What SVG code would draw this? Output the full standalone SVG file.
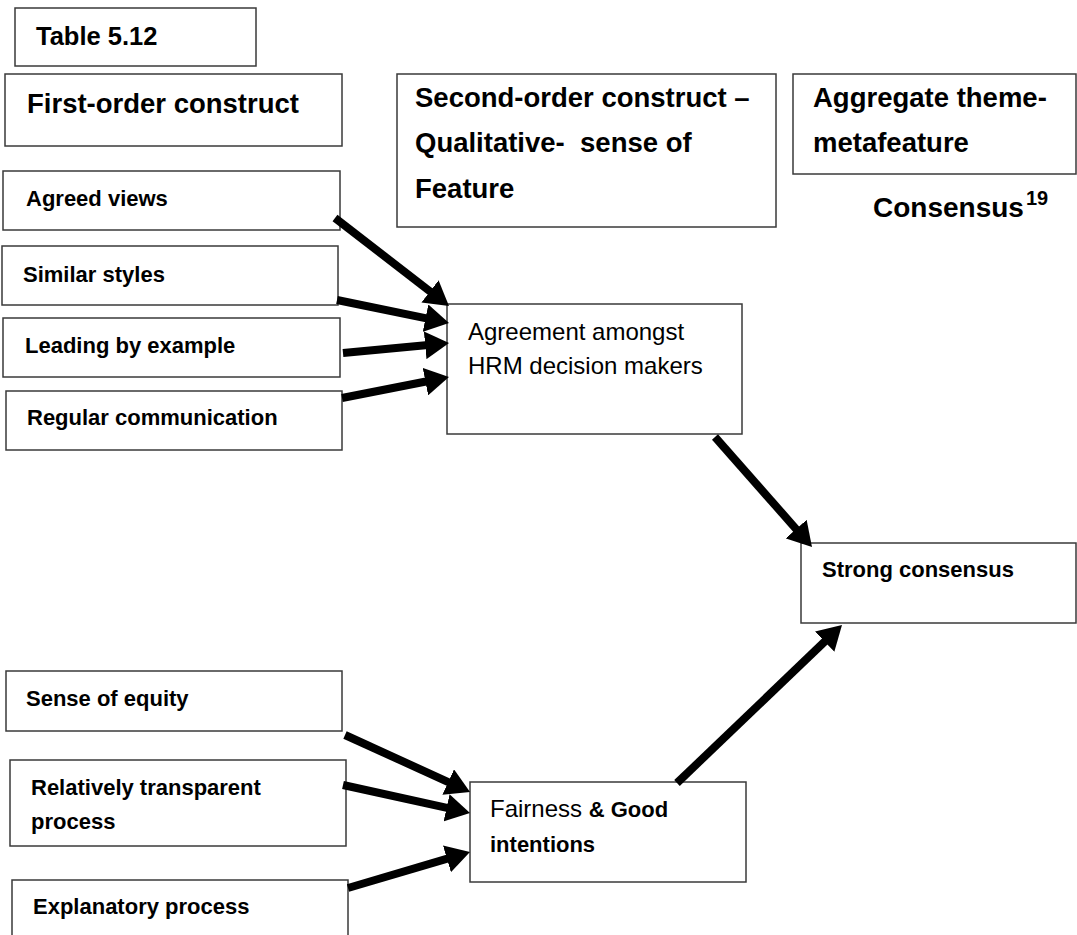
<svg xmlns="http://www.w3.org/2000/svg" width="1077" height="935" viewBox="0 0 1077 935">
  <style>
    .box { fill: #ffffff; stroke: #3a3a3a; stroke-width: 1.5; }
    .hdr { font-family: "Liberation Sans", Arial, sans-serif; font-weight: bold; font-size: 27.5px; fill: #000; }
    .lbl { font-family: "Liberation Sans", Arial, sans-serif; font-weight: bold; font-size: 22px; fill: #000; }
    .reg { font-family: "Liberation Sans", Arial, sans-serif; font-weight: normal; font-size: 24px; fill: #000; }
    .conn line { stroke: #000; stroke-width: 8; marker-end: url(#head); }
  </style>
  <defs>
    <marker id="head" markerUnits="userSpaceOnUse" markerWidth="26" markerHeight="28" viewBox="0 0 26 28" refX="11" refY="14" orient="auto">
      <path d="M0,0 L24,14 L0,28 z" fill="#000"/>
    </marker>
  </defs>
  <rect width="1077" height="935" fill="#ffffff"/>

  <!-- column headings -->
  <g id="table-title">
    <rect class="box" x="15" y="8" width="241" height="58"/>
    <text class="hdr" x="36" y="45" style="font-size:25.5px">Table 5.12</text>
  </g>
  <g id="first-order">
    <rect class="box" x="5" y="74" width="337" height="72"/>
    <text class="hdr" x="27" y="113">First-order construct</text>
  </g>
  <g id="second-order">
    <rect class="box" x="397" y="74" width="379" height="153"/>
    <text class="hdr" x="415" y="107">Second-order construct –</text>
    <text class="hdr" x="415" y="152" xml:space="preserve">Qualitative-  sense of</text>
    <text class="hdr" x="415" y="198">Feature</text>
  </g>
  <g id="aggregate">
    <rect class="box" x="793" y="74" width="283" height="100"/>
    <text class="hdr" x="813" y="107">Aggregate theme-</text>
    <text class="hdr" x="813" y="152">metafeature</text>
  </g>
  <g id="consensus-title">
    <text class="hdr" x="873" y="217" style="font-size:28px">Consensus<tspan dx="2" dy="-12" style="font-size:20px">19</tspan></text>
  </g>

  <!-- first-order constructs -->
  <g id="agreed-views">
    <rect class="box" x="3" y="171" width="337" height="59"/>
    <text class="lbl" x="26" y="206">Agreed views</text>
  </g>
  <g id="similar-styles">
    <rect class="box" x="2" y="246" width="336" height="59"/>
    <text class="lbl" x="23" y="282">Similar styles</text>
  </g>
  <g id="leading-by-example">
    <rect class="box" x="3" y="318" width="337" height="59"/>
    <text class="lbl" x="25" y="353">Leading by example</text>
  </g>
  <g id="regular-communication">
    <rect class="box" x="6" y="391" width="336" height="59"/>
    <text class="lbl" x="27" y="425">Regular communication</text>
  </g>
  <g id="sense-of-equity">
    <rect class="box" x="6" y="671" width="336" height="60"/>
    <text class="lbl" x="26" y="706">Sense of equity</text>
  </g>
  <g id="transparent-process">
    <rect class="box" x="10" y="760" width="336" height="86"/>
    <text class="lbl" x="31" y="795">Relatively transparent</text>
    <text class="lbl" x="31" y="829">process</text>
  </g>
  <g id="explanatory-process">
    <rect class="box" x="12" y="880" width="336" height="70"/>
    <text class="lbl" x="33" y="914">Explanatory process</text>
  </g>

  <!-- second-order constructs -->
  <g id="agreement">
    <rect class="box" x="447" y="304" width="295" height="130"/>
    <text class="reg" x="468" y="340">Agreement amongst</text>
    <text class="reg" x="468" y="374">HRM decision makers</text>
  </g>
  <g id="fairness">
    <rect class="box" x="470" y="782" width="276" height="100"/>
    <text class="reg" x="490" y="817">Fairness <tspan style="font-weight:bold;font-size:22px">&amp; Good</tspan></text>
    <text class="lbl" x="490" y="852">intentions</text>
  </g>

  <!-- aggregate theme -->
  <g id="strong-consensus">
    <rect class="box" x="801" y="543" width="275" height="80"/>
    <text class="lbl" x="822" y="577">Strong consensus</text>
  </g>

  <!-- connectors -->
  <g id="connectors" class="conn">
    <line x1="335" y1="218" x2="438.7" y2="298.1"/>
    <line x1="337" y1="300" x2="436.3" y2="320.4"/>
    <line x1="343" y1="353" x2="436.1" y2="344.2"/>
    <line x1="342" y1="398" x2="436.2" y2="379.5"/>
    <line x1="715" y1="437" x2="803.4" y2="537.3"/>
    <line x1="677" y1="783" x2="832.6" y2="634.0"/>
    <line x1="345" y1="735" x2="458.2" y2="786.6"/>
    <line x1="343" y1="785" x2="457.3" y2="810.2"/>
    <line x1="348" y1="888" x2="457.5" y2="855.7"/>
  </g>
</svg>
